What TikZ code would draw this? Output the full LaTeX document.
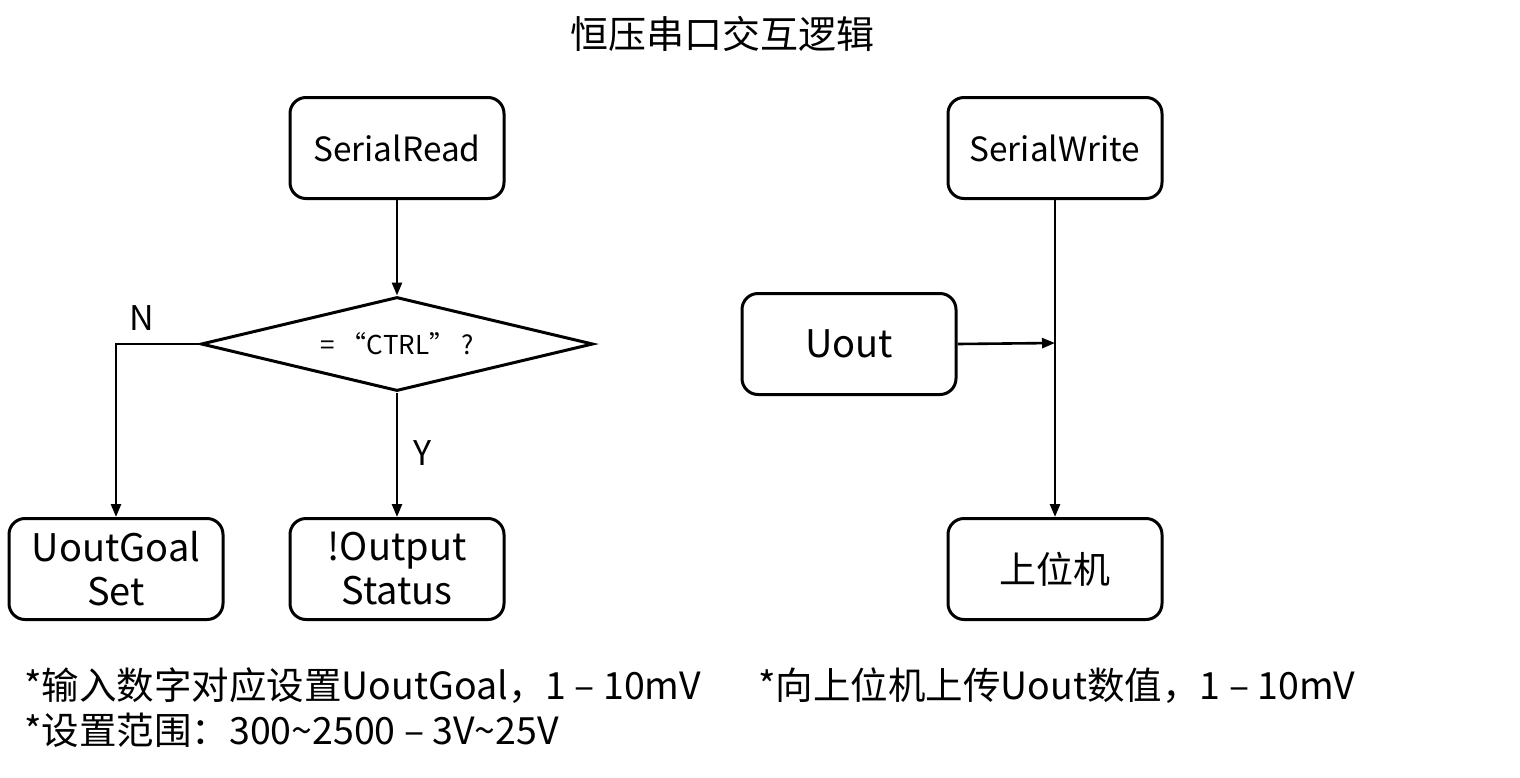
\documentclass[tikz,border=0pt]{standalone}
\usepackage{fontspec}
\setmainfont{Noto Sans CJK SC}
\usetikzlibrary{shapes.geometric,arrows.meta}
\begin{document}
\begin{tikzpicture}[x=1pt,y=-1pt,
  box/.style={draw,line width=3pt,rounded corners=16pt,minimum width=214pt,minimum height=101pt,inner sep=0pt,align=center},
  conn/.style={line width=2.6pt,-{Triangle[length=13pt,width=10pt]}},
  lbl/.style={font=\fontsize{34}{40}\selectfont,inner sep=0pt},
  note/.style={font=\fontsize{37.5}{44}\selectfont,inner sep=0pt,anchor=west}
]
\useasboundingbox (0,0) rectangle (1520,777);
\node[font=\fontsize{38}{40}\selectfont] (title) at (722,34) {恒压串口交互逻辑};

\node[box,font=\fontsize{33.4}{38}\selectfont] (read) at (397,148) {SerialRead};
\node[draw,line width=3pt,diamond,aspect=4.17,minimum width=392pt,minimum height=94pt,inner sep=0pt,font=\fontsize{26}{30}\selectfont] (dec) at (397,344) {=\ “CTRL”\ ?};
\node[box,font=\fontsize{38}{44}\selectfont] (goal) at (116,569) {UoutGoal\\Set};
\node[box,font=\fontsize{38}{44}\selectfont] (out) at (397,569) {!Output\\Status};

\node[box,font=\fontsize{33.4}{38}\selectfont] (write) at (1055,148) {SerialWrite};
\node[box,font=\fontsize{38}{44}\selectfont] (uout) at (849,344) {Uout};
\node[box,font=\fontsize{37}{44}\selectfont] (host) at (1055,569) {上位机};

\draw[conn] (read.south) -- (dec.north);
\draw[conn] (dec.west) -| (goal.north);
\draw[conn] (dec.south) -- (out.north);
\draw[conn] (write.south) -- (host.north);
\coordinate (join) at (1055,343);
\draw[conn] (uout.east) -- (join);

\node[lbl] (N) at (142,318) {N};
\node[lbl] (Y) at (423,453) {Y};

\node[note] (n1) at (24,686) {*输入数字对应设置UoutGoal，1 – 10mV};
\node[note] (n2) at (24,730) {*设置范围：300\textasciitilde2500 – 3V\textasciitilde25V};
\node[note] (n3) at (758,686) {*向上位机上传Uout数值，1 – 10mV};
\end{tikzpicture}
\end{document}
